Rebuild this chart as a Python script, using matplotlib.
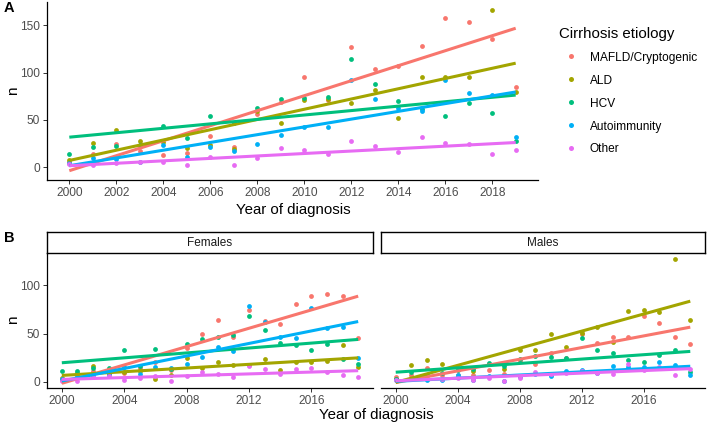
import numpy as np
import matplotlib
matplotlib.use("Agg")
import matplotlib.pyplot as plt
from matplotlib.lines import Line2D

plt.rcParams['font.family'] = ['Liberation Sans', 'DejaVu Sans']

years = list(range(2000, 2020))
etiologies = ["MAFLD/Cryptogenic", "ALD", "HCV", "Autoimmunity", "Other"]
colors = ["#F8766D", "#A3A500", "#00BF7D", "#00B0F6", "#E76BF3"]

# Panel A: all patients
all_mafld = [5, 14, 25, 17, 13, 15, 33, 21, 56, 69, 95, 71, 127, 104, 107, 128, 158, 153, 136, 85]
all_ald   = [8, 26, 39, 28, 27, 20, 23, 19, 59, 47, 71, 72, 68, 82, 52, 95, 95, 95, 166, 79]
all_hcv   = [14, 21, 22, 24, 44, 31, 54, 47, 63, 72, 73, 74, 114, 88, 70, 62, 54, 68, 57, 28]
all_auto  = [4, 10, 9, 6, 24, 11, 21, 17, 25, 34, 43, 43, 92, 72, 63, 59, 92, 78, 76, 32]
all_other = [3, 2, 4, 5, 5, 2, 11, 2, 10, 20, 18, 14, 28, 22, 16, 32, 26, 25, 14, 18]

# Panel B: females
f_mafld = [2, 6, 11, 10, 9, 14, 21, 12, 35, 50, 64, 46, 74, 63, 60, 81, 89, 91, 89, 45]
f_ald   = [4, 9, 16, 8, 10, 11, 3, 7, 25, 14, 21, 17, 17, 24, 12, 21, 21, 22, 38, 15]
f_hcv   = [11, 11, 14, 14, 33, 16, 34, 13, 39, 44, 46, 48, 68, 54, 40, 38, 33, 39, 24, 18]
f_auto  = [3, 5, 7, 7, 15, 8, 15, 14, 19, 26, 36, 32, 79, 62, 46, 45, 76, 56, 57, 25]
f_other = [1, 1, 5, 6, 2, 4, 6, 1, 6, 10, 8, 5, 16, 13, 8, 13, 14, 10, 7, 5]

# Panel B: males
m_mafld = [5, 7, 14, 7, 7, 7, 12, 8, 22, 19, 30, 25, 50, 40, 46, 46, 68, 61, 46, 39]
m_ald   = [3, 17, 23, 19, 14, 11, 18, 13, 33, 33, 50, 36, 51, 57, 41, 73, 74, 72, 127, 64]
m_hcv   = [3, 10, 7, 9, 12, 13, 20, 16, 24, 27, 26, 25, 45, 33, 30, 23, 21, 28, 33, 10]
m_auto  = [2, 3, 2, 2, 7, 2, 6, 1, 5, 8, 6, 11, 12, 9, 16, 15, 15, 21, 17, 7]
m_other = [2, 3, 4, 3, 4, 2, 4, 1, 4, 10, 8, 9, 11, 9, 8, 19, 12, 15, 7, 13]

xticks_a = list(range(2000, 2019, 2))
xticks_b = list(range(2000, 2017, 4))
yticks_a = [0, 50, 100, 150]
yticks_b = [0, 50, 100]

W, H = 709, 426
fig = plt.figure(figsize=(W / 100, H / 100), dpi=100)


def ax_px(l, t, r, b):
    return fig.add_axes([l / W, 1 - b / H, (r - l) / W, (b - t) / H])


TICK_C = "#4D4D4D"


def style(ax, xticks, yticks, ylim, show_y=True):
    for s in ["top", "right"]:
        ax.spines[s].set_visible(False)
    for s in ["left", "bottom"]:
        ax.spines[s].set_linewidth(0.9)
        ax.spines[s].set_color("black")
    ax.set_xlim(1999.05, 2019.95)
    ax.set_ylim(*ylim)
    ax.set_xticks(xticks)
    ax.set_xticklabels([str(t) for t in xticks])
    ax.set_yticks(yticks)
    if show_y:
        ax.set_yticklabels([str(t) for t in yticks])
    else:
        ax.set_yticklabels([])
    ax.tick_params(axis="both", labelsize=8.6, colors="#333333", labelcolor=TICK_C,
                   length=3, width=0.7, pad=2)
    ax.set_facecolor("white")


def draw(ax, series):
    x = np.array(years, dtype=float)
    for vals, c in zip(series, colors):
        ax.scatter(x, vals, s=12, color=c, linewidths=0, zorder=2)
    for vals, c in zip(series, colors):
        k, b = np.polyfit(x, np.array(vals, dtype=float), 1)
        ax.plot([x[0], x[-1]], [k * x[0] + b, k * x[-1] + b], color=c, lw=2.2,
                solid_capstyle="butt", zorder=3)


# Panel A
axA = ax_px(47, 2, 538, 180)
draw(axA, [all_mafld, all_ald, all_hcv, all_auto, all_other])
style(axA, xticks_a, yticks_a, (-13.5, 174.6))
fig.text(293 / W, 1 - 210 / H, "Year of diagnosis", ha="center", va="center", fontsize=10.8)
fig.text(13 / W, 1 - 91 / H, "n", ha="center", va="center", rotation=90, fontsize=11)

# Panel B
axF = ax_px(47, 253, 373, 388)
axM = ax_px(381, 253, 705, 388)
draw(axF, [f_mafld, f_ald, f_hcv, f_auto, f_other])
draw(axM, [m_mafld, m_ald, m_hcv, m_auto, m_other])
style(axF, xticks_b, yticks_b, (-6.35, 133.35))
style(axM, xticks_b, yticks_b, (-6.35, 133.35), show_y=False)
axM.spines["left"].set_visible(False)
axM.tick_params(axis="y", length=0)
fig.text(13 / W, 1 - 320 / H, "n", ha="center", va="center", rotation=90, fontsize=11)

for (l, r), title in [((47, 373), "Females"), ((381, 705), "Males")]:
    sax = ax_px(l, 232, r, 253)
    sax.set_xticks([])
    sax.set_yticks([])
    for s in sax.spines.values():
        s.set_linewidth(1.0)
        s.set_color("black")
    sax.text(0.5, 0.5, title, ha="center", va="center", fontsize=8.5, color="#1A1A1A",
             transform=sax.transAxes)

fig.text(376 / W, 1 - 415 / H, "Year of diagnosis", ha="center", va="center", fontsize=10.8)

# Panel tags
fig.text(4 / W, 1 - 8 / H, "A", ha="left", va="center", fontsize=10.5, fontweight="bold")
fig.text(4 / W, 1 - 238 / H, "B", ha="left", va="center", fontsize=10.5, fontweight="bold")

# Legend
handles = [Line2D([], [], marker="o", linestyle="none", markersize=3.6, color=c,
                  markeredgewidth=0) for c in colors]
leg = fig.legend(handles, etiologies, loc="upper left", bbox_to_anchor=(549 / W, 1 - 17 / H),
                 frameon=False, fontsize=8.6, title="Cirrhosis etiology", title_fontsize=10.8,
                 labelspacing=0.92, handletextpad=0.6, handlelength=2.0, borderpad=0.3)
leg._legend_box.align = "left"

fig.savefig("out.png", dpi=100)
